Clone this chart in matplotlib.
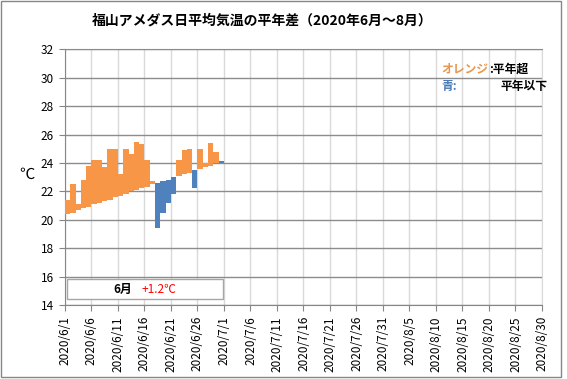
import matplotlib
matplotlib.use('Agg')
import matplotlib.pyplot as plt
from matplotlib.patches import Rectangle
import numpy as np
import pandas as pd

plt.rcParams['font.family'] = ['Noto Sans CJK JP', 'DejaVu Sans']

# 2020年6月の日平均気温と平年値
dates = pd.date_range('2020-06-01', periods=30)
normal = [20.4, 20.5, 20.7, 20.8, 20.9, 21.1, 21.2, 21.3, 21.4, 21.6,
          21.7, 21.8, 22.0, 22.1, 22.2, 22.3, 22.5, 22.6, 22.7, 22.8,
          23.0, 23.1, 23.2, 23.3, 23.5, 23.6, 23.7, 23.8, 24.0, 24.1]
actual = [21.4, 22.5, 21.1, 22.8, 23.8, 24.2, 24.2, 23.7, 25.0, 25.0,
          23.2, 25.0, 24.6, 25.5, 25.3, 24.2, 22.7, 19.4, 20.5, 21.2,
          21.8, 24.2, 24.9, 25.0, 22.2, 25.0, 24.0, 25.4, 24.8, 24.0]
tick_dates = pd.date_range('2020-06-01', '2020-08-30', freq='5D')

title = '福山アメダス日平均気温の平年差（2020年6月～8月）'
orange = '#f79646'
blue = '#4f81bd'

diff = np.array(actual) - np.array(normal)
colors = [orange if d >= 0 else blue for d in diff]

fig = plt.figure(figsize=(5.67, 3.79), dpi=100)
ax = fig.add_axes([0.1146, 0.1953, 0.8413, 0.6747])

ax.bar(dates, diff, bottom=normal, width=1.0, align='edge', color=colors,
       linewidth=0, zorder=3)

ax.set_xlim(tick_dates[0], tick_dates[-1])
ax.set_ylim(14, 32)
ax.set_yticks(range(14, 33, 2))
ax.set_xticks(tick_dates)
ax.set_xticklabels([f'{d.year}/{d.month}/{d.day}' for d in tick_dates],
                   rotation=90)

ax.grid(axis='y', color='#8c8c8c', linewidth=1, zorder=1)
ax.grid(axis='x', color='#d9d9d9', linewidth=1, zorder=1)
for s in ['left', 'bottom']:
    ax.spines[s].set_color('#868686')
ax.spines['top'].set_color('#8c8c8c')
ax.spines['right'].set_color('#d9d9d9')
ax.tick_params(axis='both', length=4, color='#868686', labelsize=8.5, pad=4)

ax.text(-0.08, 0.51, '℃', transform=ax.transAxes, ha='center', va='center',
        fontsize=11)

# 月平均の平年差ボックス
ax.add_patch(Rectangle((0.004, 0.022), 0.327, 0.078, transform=ax.transAxes,
                       fill=True, facecolor='white', edgecolor='#a6a6a6',
                       linewidth=1, zorder=4))
ax.text(0.121, 0.059, '6月', transform=ax.transAxes, ha='center',
        va='center', fontsize=8.5, fontweight='bold', zorder=5)
ax.text(0.161, 0.059, '+1.2℃', transform=ax.transAxes, ha='left',
        va='center', fontsize=8.5, color='#ff0000', zorder=5)

fig.text(0.462, 0.945, title, ha='center', va='center', fontsize=10,
         fontweight='bold')

fig.text(0.779, 0.818, 'オレンジ', ha='left', va='center', fontsize=8.5,
         fontweight='bold', color='#e8964f')
fig.text(0.863, 0.818, ':平年超', ha='left', va='center', fontsize=8.5,
         fontweight='bold')
fig.text(0.779, 0.771, '青:', ha='left', va='center', fontsize=8.5,
         fontweight='bold', color='#4a7ab5')
fig.text(0.882, 0.771, '平年以下', ha='left', va='center', fontsize=8.5,
         fontweight='bold')

fig.add_artist(Rectangle((0.001, 0.005), 0.989, 0.993,
                         transform=fig.transFigure, fill=False,
                         edgecolor='#868686', linewidth=1))

fig.savefig('out.png', dpi=100)
